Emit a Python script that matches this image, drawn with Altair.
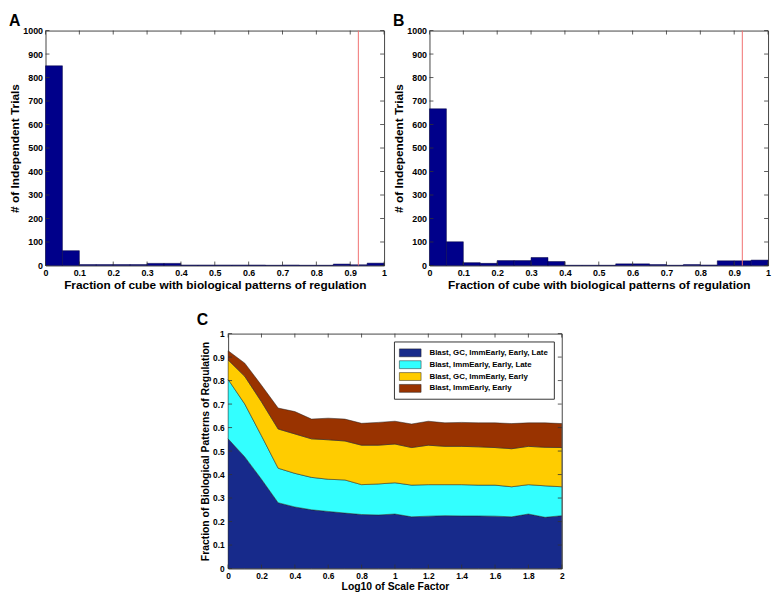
import altair as alt
import pandas as pd

FONT = "Liberation Sans"

# ---------------- histogram data (panels A, B) ----------------
bin_starts = [0.00, 0.05, 0.10, 0.15, 0.20, 0.25, 0.30, 0.35, 0.40, 0.45,
              0.50, 0.55, 0.60, 0.65, 0.70, 0.75, 0.80, 0.85, 0.90, 0.95]
bin_ends = [0.05, 0.10, 0.15, 0.20, 0.25, 0.30, 0.35, 0.40, 0.45, 0.50,
            0.55, 0.60, 0.65, 0.70, 0.75, 0.80, 0.85, 0.90, 0.95, 1.00]
counts_a = [850, 63, 4, 4, 4, 4, 9, 9, 2, 2, 2, 2, 2, 1, 2, 1, 1, 6, 3, 10]
counts_b = [667, 101, 12, 9, 21, 21, 34, 17, 1, 1, 1, 7, 7, 4, 1, 4, 2, 20, 20, 23]
threshold = [0.924]

hist_x_ticks = [0, 0.1, 0.2, 0.3, 0.4, 0.5, 0.6, 0.7, 0.8, 0.9, 1]
hist_y_ticks = [0, 100, 200, 300, 400, 500, 600, 700, 800, 900, 1000]

# ---------------- stacked area data (panel C) ----------------
scale_x = [0, 0.1, 0.2, 0.3, 0.4, 0.5, 0.6, 0.7, 0.8, 0.9, 1.0,
           1.1, 1.2, 1.3, 1.4, 1.5, 1.6, 1.7, 1.8, 1.9, 2.0]
top_blue = [0.552, 0.475, 0.38, 0.28, 0.262, 0.25, 0.243, 0.236, 0.23, 0.228, 0.232,
            0.22, 0.223, 0.225, 0.224, 0.224, 0.223, 0.22, 0.232, 0.218, 0.225]
top_cyan = [0.805, 0.70, 0.565, 0.427, 0.405, 0.388, 0.38, 0.377, 0.357, 0.36, 0.365,
            0.355, 0.357, 0.357, 0.357, 0.355, 0.355, 0.348, 0.357, 0.352, 0.348]
top_yellow = [0.888, 0.818, 0.71, 0.594, 0.573, 0.552, 0.548, 0.543, 0.525, 0.525, 0.53,
              0.515, 0.525, 0.52, 0.52, 0.518, 0.515, 0.51, 0.52, 0.516, 0.515]
top_brown = [0.927, 0.874, 0.78, 0.683, 0.668, 0.636, 0.64, 0.636, 0.618, 0.622, 0.627,
             0.615, 0.627, 0.62, 0.622, 0.62, 0.62, 0.617, 0.62, 0.62, 0.617]
series_names = ["Blast, GC, ImmEarly, Early, Late",
                "Blast, ImmEarly, Early, Late",
                "Blast, GC, ImmEarly, Early",
                "Blast, ImmEarly, Early"]
series_colors = ["#172a8b", "#33ffff", "#ffcc00", "#993300"]

c_x_ticks = [0, 0.2, 0.4, 0.6, 0.8, 1, 1.2, 1.4, 1.6, 1.8, 2]
c_y_ticks = [0, 0.1, 0.2, 0.3, 0.4, 0.5, 0.6, 0.7, 0.8, 0.9, 1]

TICK_COLOR = "#333333"
TICK_LEN = 4


def ax(values, fmt, title, lsize, tsize, lpad, tpad):
    return alt.Axis(values=values, format=fmt, title=title, labelFontSize=lsize,
                    titleFontSize=tsize, labelPadding=lpad, titlePadding=tpad,
                    labelOverlap=False, labelFlush=False)


def inner_ticks(xvals, yvals, w, h, xaxis, yaxis, xscale, yscale):
    xt = pd.DataFrame({"v": xvals})
    yt = pd.DataFrame({"v": yvals})
    base_x = alt.Chart(xt).mark_rule(color=TICK_COLOR, strokeWidth=0.8)
    base_y = alt.Chart(yt).mark_rule(color=TICK_COLOR, strokeWidth=0.8)
    xs = alt.X("v:Q", axis=xaxis, scale=xscale)
    ys = alt.Y("v:Q", axis=yaxis, scale=yscale)
    return [
        base_x.encode(x=xs, y=alt.value(h), y2=alt.value(h - TICK_LEN)),
        base_x.encode(x=xs, y=alt.value(0), y2=alt.value(TICK_LEN)),
        base_y.encode(y=ys, x=alt.value(0), x2=alt.value(TICK_LEN)),
        base_y.encode(y=ys, x=alt.value(w), x2=alt.value(w - TICK_LEN)),
    ]


HW, HH = 343, 238


def hist_panel(counts, letter):
    df = pd.DataFrame({"start": bin_starts, "end": bin_ends, "count": counts})
    xaxis = ax(hist_x_ticks, "~g", "Fraction of cube with biological patterns of regulation",
               9, 12, 3, 2)
    yaxis = ax(hist_y_ticks, "d", "# of Independent Trials", 9, 12, 3, 1)
    xscale = alt.Scale(domain=[0, 1], nice=False, zero=False)
    yscale = alt.Scale(domain=[0, 1000], nice=False)
    bars = alt.Chart(df).mark_rect(color="#00008a", stroke="#000040", strokeWidth=0.5).encode(
        x=alt.X("start:Q", scale=xscale, axis=xaxis),
        x2="end:Q",
        y=alt.Y("count:Q", scale=yscale, axis=yaxis),
        y2=alt.datum(0),
    )
    red = alt.Chart(pd.DataFrame({"t": threshold})).mark_rule(color="#f07070", strokeWidth=1).encode(
        x=alt.X("t:Q", axis=xaxis, scale=xscale)
    )
    return alt.layer(
        bars, red, *inner_ticks(hist_x_ticks, hist_y_ticks, HW, HH, xaxis, yaxis, xscale, yscale)
    ).properties(
        width=HW, height=HH,
        title=alt.TitleParams(letter, anchor="start", frame="bounds", fontSize=16,
                              fontWeight="bold", font=FONT, offset=-2),
    )


CW, CH = 338, 238
rows = []
lowers = [[0] * len(scale_x), top_blue, top_cyan, top_yellow]
uppers = [top_blue, top_cyan, top_yellow, top_brown]
for name, lo, up in zip(series_names, lowers, uppers):
    for xv, l, u in zip(scale_x, lo, up):
        rows.append({"series": name, "x": xv, "lower": l, "upper": u})
area_df = pd.DataFrame(rows)

c_xaxis = ax(c_x_ticks, "~g", "Log10 of Scale Factor", 8.5, 10.5, 3, 2)
c_yaxis = ax(c_y_ticks, "~g", "Fraction of Biological Patterns of Regulation", 8.5, 10.5, 4, 2)
c_xscale = alt.Scale(domain=[0, 2], nice=False)
c_yscale = alt.Scale(domain=[0, 1], nice=False)

areas = alt.Chart(area_df).mark_area(stroke="#222222", strokeWidth=0.5, opacity=1).encode(
    x=alt.X("x:Q", scale=c_xscale, axis=c_xaxis),
    y=alt.Y("upper:Q", scale=c_yscale, axis=c_yaxis),
    y2="lower:Q",
    color=alt.Color("series:N", title=None,
                    scale=alt.Scale(domain=series_names, range=series_colors),
                    legend=alt.Legend(orient="top-right", offset=8, strokeColor="#333333",
                                      fillColor="white", padding=5,
                                      symbolType="M-1.833,-0.667L1.833,-0.667L1.833,0.667L-1.833,0.667Z",
                                      symbolSize=144, symbolStrokeColor="#222222",
                                      symbolStrokeWidth=0.5, symbolOpacity=1,
                                      symbolOffset=5,
                                      labelFont=FONT, labelFontSize=8,
                                      labelFontWeight="bold", labelColor="black",
                                      labelOffset=13, rowPadding=0)),
)

panel_c = alt.layer(
    areas, *inner_ticks(c_x_ticks, c_y_ticks, CW, CH, c_xaxis, c_yaxis, c_xscale, c_yscale)
).properties(
    width=CW, height=CH,
    title=alt.TitleParams("C", anchor="start", frame="bounds", fontSize=16,
                          fontWeight="bold", font=FONT, offset=2, dx=-4),
)

spacer = alt.Chart(pd.DataFrame({"a": [0]})).mark_point(opacity=0).encode(
    x=alt.X("a:Q", axis=None), y=alt.Y("a:Q", axis=None)
).properties(width=152, height=10, view=alt.ViewBackground(strokeOpacity=0))

top_row = alt.hconcat(hist_panel(counts_a, "A"), hist_panel(counts_b, "B"), spacing=4)
bottom_row = alt.hconcat(spacer, panel_c, spacing=0).resolve_scale(color="independent")

chart = alt.vconcat(top_row, bottom_row, spacing=20).resolve_scale(
    color="independent"
).properties(padding=0).configure_axis(
    labelFont=FONT, labelFontWeight="bold", labelColor="black",
    titleFont=FONT, titleFontWeight="bold", titleColor="black",
    domain=False, ticks=False, grid=False,
).configure_view(stroke="#444444", strokeWidth=1).configure_title(color="black")

chart.save("out.html", embed_options={"renderer": "svg", "actions": False})
